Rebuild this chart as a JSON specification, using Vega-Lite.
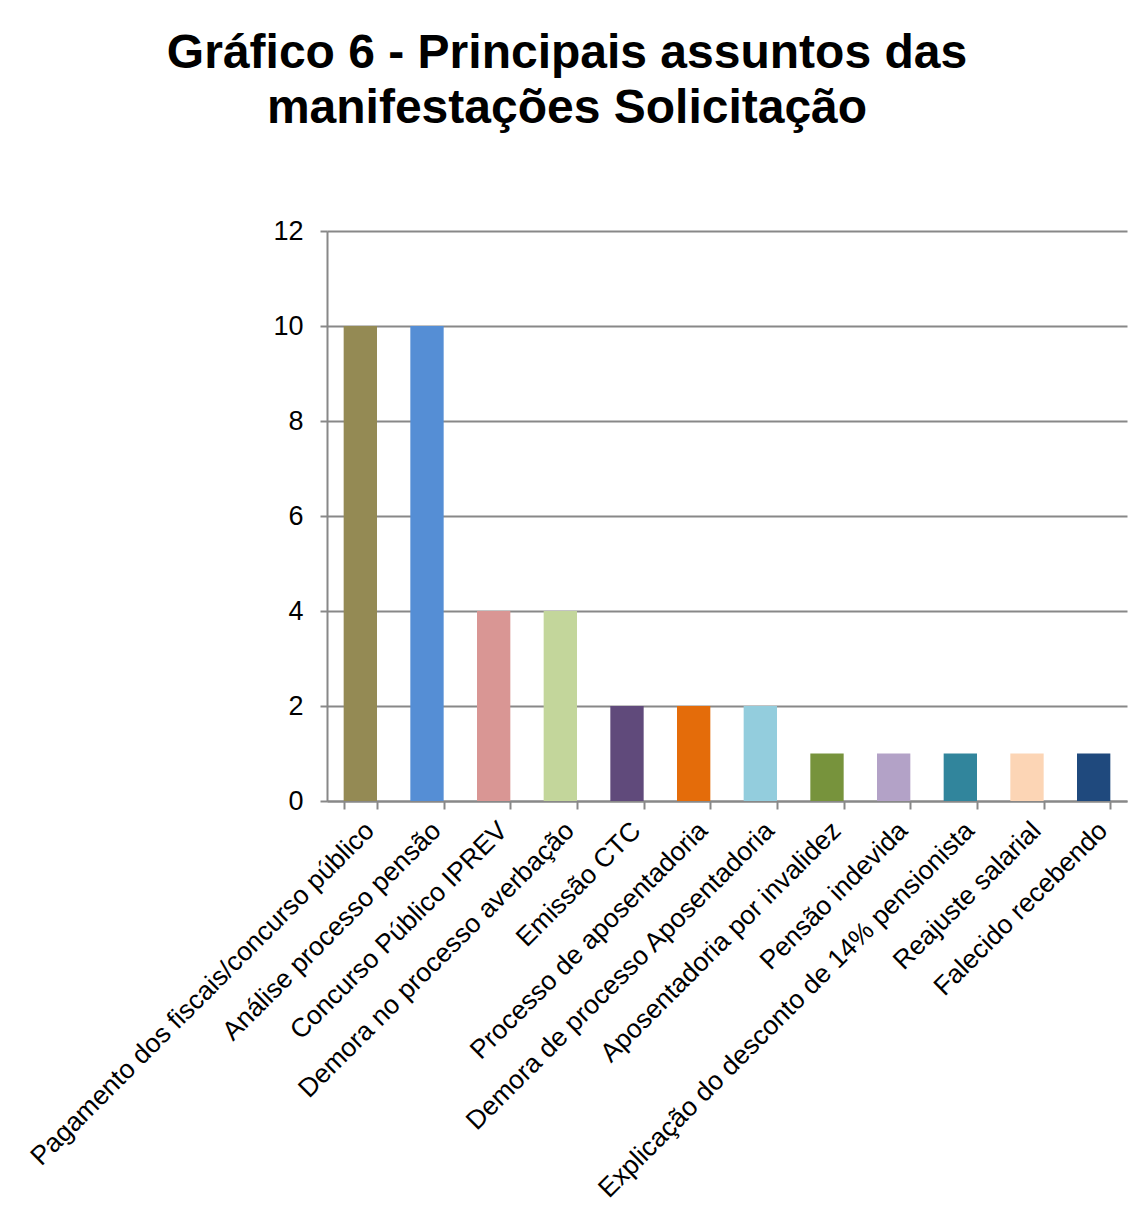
{
  "$schema": "https://vega.github.io/schema/vega-lite/v6.json",
  "autosize": {"type": "none"},
  "padding": {"left": 327, "top": 231, "right": 3, "bottom": 404},
  "width": 800,
  "height": 570,
  "background": "white",
  "title": {
    "text": ["Gráfico 6 - Principais assuntos das", "manifestações Solicitação"],
    "font": "Liberation Sans",
    "fontSize": 48,
    "fontWeight": "bold",
    "color": "black",
    "anchor": "middle",
    "dx": -160,
    "offset": 84,
    "lineHeight": 55
  },
  "data": {
    "values": [
      {"assunto": "Pagamento dos fiscais/concurso público", "qtd": 10},
      {"assunto": "Análise processo pensão", "qtd": 10},
      {"assunto": "Concurso Público IPREV", "qtd": 4},
      {"assunto": "Demora no processo averbação", "qtd": 4},
      {"assunto": "Emissão CTC", "qtd": 2},
      {"assunto": "Processo de aposentadoria", "qtd": 2},
      {"assunto": "Demora de processo Aposentadoria", "qtd": 2},
      {"assunto": "Aposentadoria por invalidez", "qtd": 1},
      {"assunto": "Pensão indevida", "qtd": 1},
      {"assunto": "Explicação do desconto de 14% pensionista", "qtd": 1},
      {"assunto": "Reajuste salarial", "qtd": 1},
      {"assunto": "Falecido recebendo", "qtd": 1}
    ]
  },
  "mark": {"type": "bar"},
  "encoding": {
    "x": {
      "field": "assunto",
      "type": "nominal",
      "sort": null,
      "title": null,
      "scale": {"paddingInner": 0.5, "paddingOuter": 0.25},
      "axis": {
        "labelAngle": -45,
        "labelFont": "Liberation Sans",
        "labelFontSize": 26.5,
        "labelColor": "black",
        "labelLimit": 0,
        "labelPadding": 8,
        "domainColor": "#888888",
        "domainWidth": 2,
        "tickColor": "#888888",
        "tickWidth": 2,
        "tickSize": 8,
        "tickBand": "extent",
        "grid": false
      }
    },
    "y": {
      "field": "qtd",
      "type": "quantitative",
      "title": null,
      "scale": {"domain": [0, 12]},
      "axis": {
        "values": [0, 2, 4, 6, 8, 10, 12],
        "labelFont": "Liberation Sans",
        "labelFontSize": 27,
        "labelColor": "black",
        "labelPadding": 17,
        "domainColor": "#888888",
        "domainWidth": 2,
        "tickColor": "#888888",
        "tickWidth": 2,
        "tickSize": 7,
        "gridColor": "#888888",
        "gridWidth": 2
      }
    },
    "color": {
      "field": "assunto",
      "type": "nominal",
      "sort": null,
      "legend": null,
      "scale": {
        "domain": ["Pagamento dos fiscais/concurso público", "Análise processo pensão", "Concurso Público IPREV", "Demora no processo averbação", "Emissão CTC", "Processo de aposentadoria", "Demora de processo Aposentadoria", "Aposentadoria por invalidez", "Pensão indevida", "Explicação do desconto de 14% pensionista", "Reajuste salarial", "Falecido recebendo"],
        "range": ["#948A54", "#558ED5", "#D99694", "#C3D69B", "#604A7B", "#E46C0A", "#93CDDD", "#77933C", "#B3A2C7", "#31859C", "#FCD5B5", "#1F497D"]
      }
    }
  },
  "config": {"view": {"stroke": null}}
}
